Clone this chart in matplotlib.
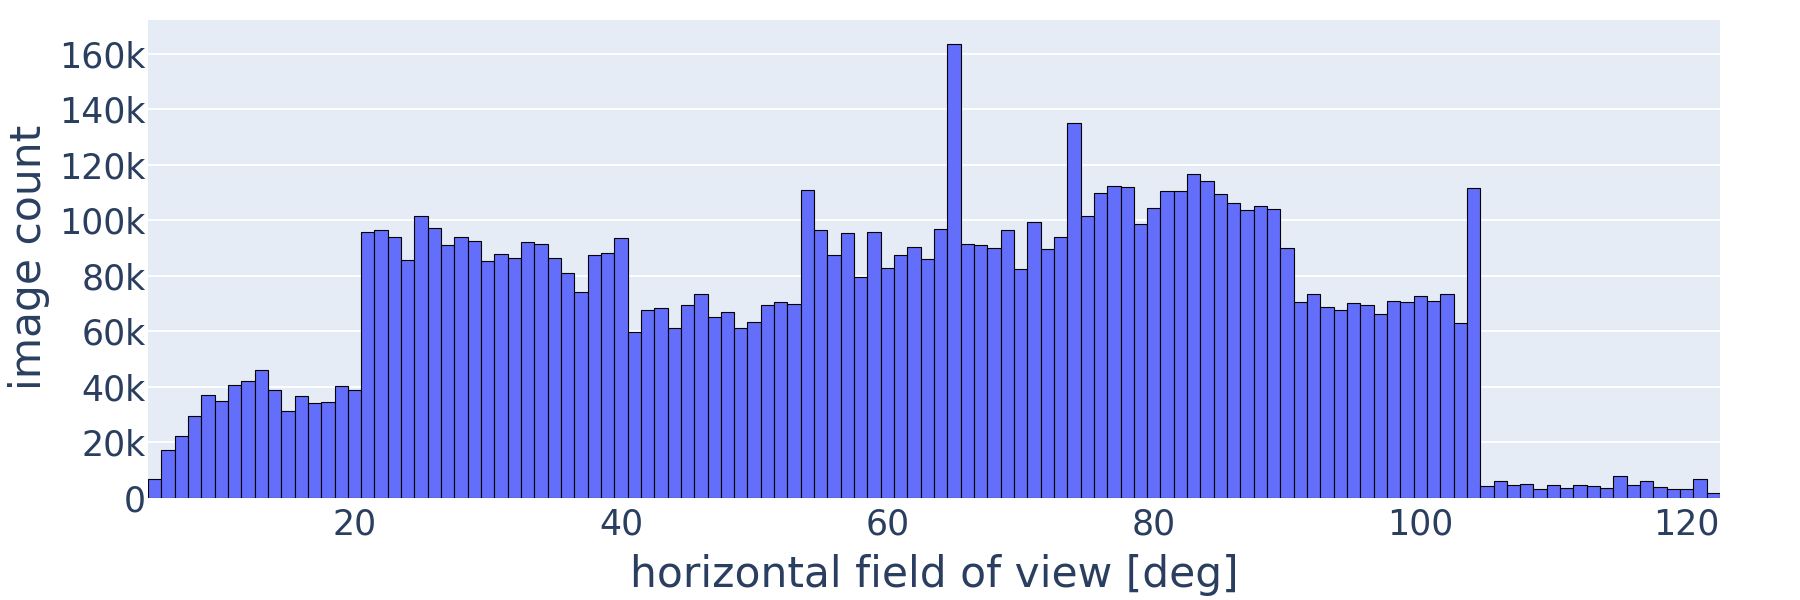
import matplotlib
matplotlib.use('Agg')
import matplotlib.pyplot as plt
from matplotlib.ticker import FuncFormatter

# horizontal field of view bins (deg), one bin per integer
fov = list(range(5, 123))
counts = [
    6.6, 17.1, 22.2, 29.2, 37.0, 34.9, 40.5, 42.1, 45.8, 38.6,      # 5-14
    31.0, 36.7, 33.9, 34.6, 40.1, 38.9, 95.8, 96.4, 93.8, 85.6,     # 15-24
    101.5, 97.2, 90.9, 93.9, 92.3, 85.2, 87.6, 86.5, 92.1, 91.4,    # 25-34
    86.5, 80.8, 73.9, 87.4, 88.3, 93.6, 59.7, 67.7, 68.4, 61.2,     # 35-44
    69.4, 73.2, 65.2, 66.7, 61.0, 63.2, 69.4, 70.5, 69.9, 111.0,    # 45-54
    96.5, 87.4, 95.4, 79.3, 95.8, 82.6, 87.3, 90.3, 85.9, 96.8,     # 55-64
    163.6, 91.2, 90.9, 90.1, 96.5, 82.2, 99.2, 89.6, 93.9, 134.9,   # 65-74
    101.5, 109.6, 112.4, 111.8, 98.5, 104.5, 110.3, 110.5, 116.5, 113.9,  # 75-84
    109.5, 106.1, 103.7, 104.9, 104.0, 89.9, 70.6, 73.5, 68.7, 67.4,  # 85-94
    70.2, 69.5, 66.1, 70.7, 70.3, 72.7, 70.7, 73.5, 63.0, 111.6,    # 95-104
    4.1, 5.8, 4.6, 4.7, 2.9, 4.4, 3.3, 4.6, 4.0, 3.6,               # 105-114
    7.7, 4.4, 6.1, 3.9, 3.2, 3.2, 6.5, 1.8,                         # 115-122
]
counts = [c * 1000 for c in counts]

x_ticks = [20, 40, 60, 80, 100, 120]
y_ticks = [0, 20000, 40000, 60000, 80000, 100000, 120000, 140000, 160000]

font_color = '#2a3f5f'
plt.rcParams['font.family'] = 'DejaVu Sans'

fig = plt.figure(figsize=(18, 6), dpi=100)
ax = fig.add_axes([148 / 1800, 1 - 497.5 / 600, 1572 / 1800, 477.5 / 600])
ax.set_facecolor('#E5ECF6')

ax.bar(fov, counts, width=1.0, color='#636EFA', edgecolor='black',
       linewidth=0.8, zorder=3)

ax.set_xlim(4.5, 122.5)
ax.set_ylim(0, 172100)
ax.set_xticks(x_ticks)
ax.set_yticks(y_ticks)
ax.yaxis.set_major_formatter(FuncFormatter(
    lambda v, p: '0' if v == 0 else '%dk' % round(v / 1000)))
ax.grid(axis='y', color='white', linewidth=1.3, zorder=0)
ax.grid(axis='x', visible=False)
ax.tick_params(length=0, labelsize=25, colors=font_color)
ax.tick_params(axis='x', pad=7.5)
ax.tick_params(axis='y', pad=1.5)
for s in ax.spines.values():
    s.set_visible(False)

fig.text(934 / 1800, 1 - 587.3 / 600, 'horizontal field of view [deg]',
         fontsize=30.5, color=font_color, ha='center', va='baseline')
fig.text(29 / 1800, 1 - 257 / 600, 'image count', fontsize=30.5,
         color=font_color, ha='center', va='center', rotation=90)

fig.savefig('out.png', dpi=100)
